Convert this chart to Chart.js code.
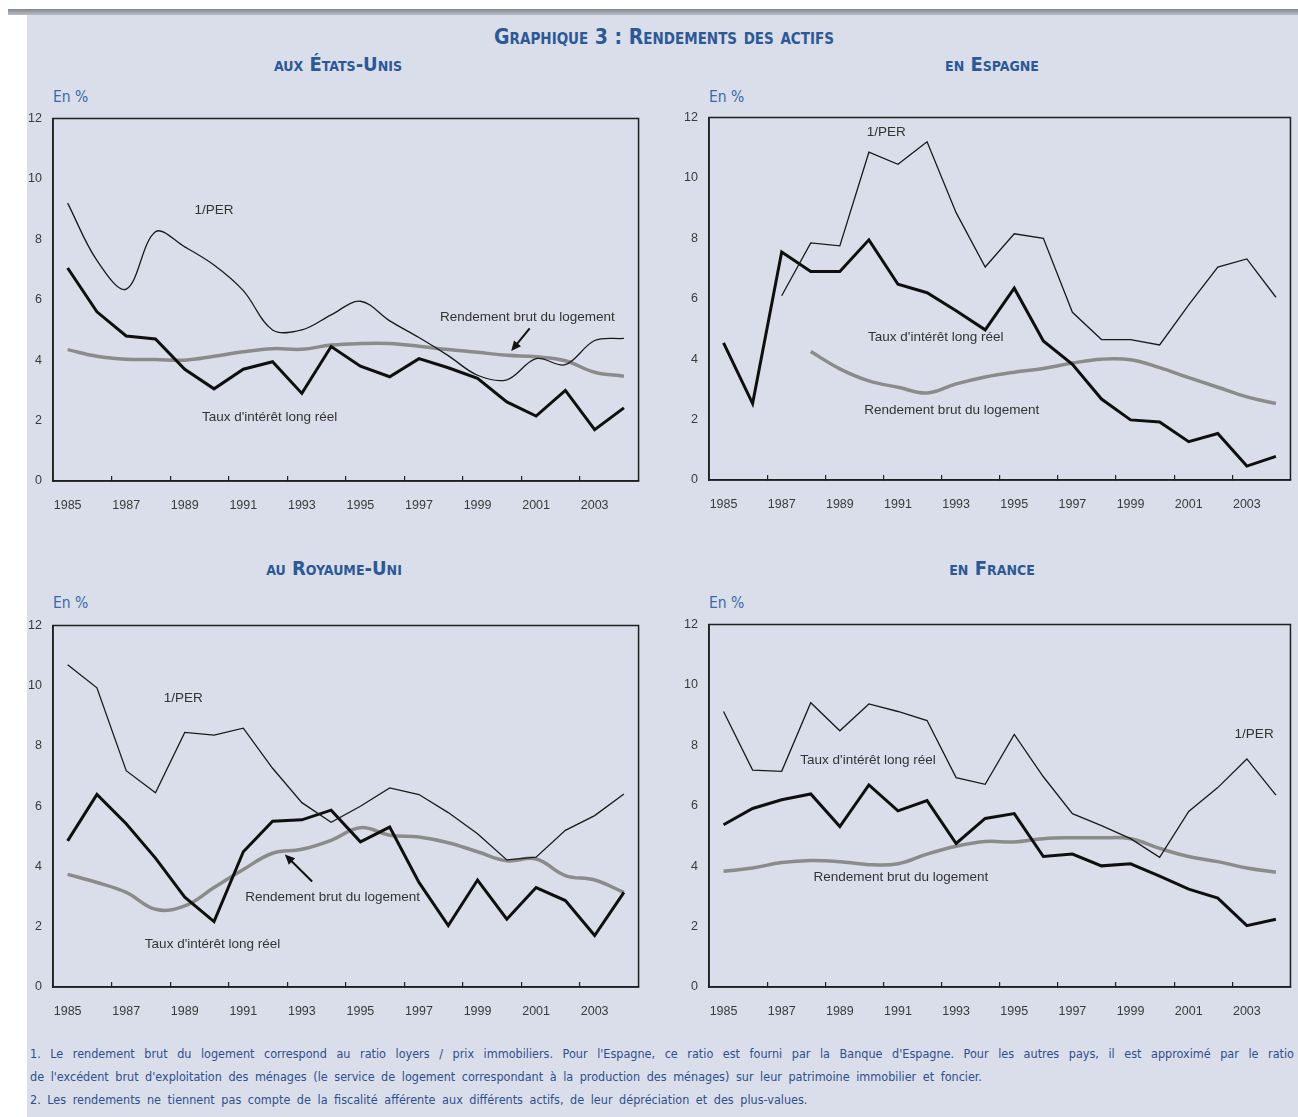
<!DOCTYPE html>
<html>
<head>
<meta charset="utf-8">
<script src="https://cdn.jsdelivr.net/npm/chart.js@4.4.1/dist/chart.umd.min.js"></script>
<style>
  body{margin:0;width:1298px;height:1117px;background:#fff;position:relative;overflow:hidden;font-family:"Liberation Sans Narrow","DejaVu Sans Condensed",sans-serif;}
  #bg{position:absolute;left:27px;top:9px;right:0;bottom:0;background:#d9deea;}
  #bar{position:absolute;left:8px;top:9px;right:0;height:6px;background:linear-gradient(#83878f,#b9bdc6);}
  .ttl{position:absolute;color:#2c5996;font-weight:bold;font-variant:small-caps;white-space:nowrap;transform:translate(-50%,-50%);}
  .unit{position:absolute;color:#3a6aa8;font-size:15.5px;transform:translateY(-50%);}
  .panel{position:absolute;}
  .note{position:absolute;left:30px;width:1264px;color:#2f4f8c;font-size:12.5px;word-spacing:3px;white-space:nowrap;}
  .just{text-align:justify;text-align-last:justify;white-space:normal;}
</style>
</head>
<body>
<div id="bg"></div>
<div id="bar"></div>

<div class="ttl" style="left:664px;top:37px;font-size:21px;">Graphique 3 : Rendements des actifs</div>
<div class="ttl" style="left:338px;top:64px;font-size:20px;">aux États-Unis</div>
<div class="ttl" style="left:992px;top:64px;font-size:20px;">en Espagne</div>
<div class="ttl" style="left:334px;top:568px;font-size:20px;">au Royaume-Uni</div>
<div class="ttl" style="left:992px;top:568px;font-size:20px;">en France</div>

<div class="unit" style="left:53px;top:97px;">En %</div>
<div class="unit" style="left:709px;top:97px;">En %</div>
<div class="unit" style="left:53px;top:603px;">En %</div>
<div class="unit" style="left:709px;top:603px;">En %</div>

<div class="panel" id="p-us"><canvas id="c-us"></canvas></div>
<div class="panel" id="p-es"><canvas id="c-es"></canvas></div>
<div class="panel" id="p-uk"><canvas id="c-uk"></canvas></div>
<div class="panel" id="p-fr"><canvas id="c-fr"></canvas></div>

<div class="note just" style="top:1046px;">1. Le rendement brut du logement correspond au ratio loyers / prix immobiliers. Pour l'Espagne, ce ratio est fourni par la Banque d'Espagne. Pour les autres pays, il est approximé par le ratio</div>
<div class="note" style="top:1069px;">de l'excédent brut d'exploitation des ménages (le service de logement correspondant à la production des ménages) sur leur patrimoine immobilier et foncier.</div>
<div class="note" style="top:1092px;">2. Les rendements ne tiennent pas compte de la fiscalité afférente aux différents actifs, de leur dépréciation et des plus-values.</div>

<script>
// =======================
// Data (en %)
// =======================
const years = [1985,1986,1987,1988,1989,1990,1991,1992,1993,1994,1995,1996,1997,1998,1999,2000,2001,2002,2003,2004];
const yTicks = [0,2,4,6,8,10,12];

// ===== États-Unis =====
const usPer   = [9.2,7.3,6.35,8.25,7.75,7.15,6.3,5.0,5.0,5.5,5.95,5.3,4.75,4.15,3.5,3.35,4.05,3.85,4.65,4.72];
const usTaux  = [7.05,5.6,4.8,4.7,3.7,3.05,3.7,3.95,2.9,4.45,3.8,3.45,4.05,3.75,3.4,2.62,2.15,3.0,1.7,2.42];
const usLoge  = [4.35,4.13,4.03,4.02,4.0,4.13,4.28,4.38,4.36,4.5,4.55,4.55,4.46,4.35,4.26,4.16,4.11,3.98,3.6,3.47];

// ===== Espagne =====
const esPer   = [null,null,6.1,7.85,7.75,10.85,10.45,11.2,8.85,7.05,8.15,8.0,5.55,4.65,4.65,4.47,5.8,7.05,7.32,6.05];
const esTaux  = [4.54,2.53,7.55,6.9,6.9,7.95,6.48,6.2,5.6,4.97,6.35,4.6,3.83,2.68,1.99,1.92,1.27,1.54,0.46,0.78];
const esLoge  = [null,null,null,4.25,3.68,3.28,3.07,2.88,3.18,3.41,3.57,3.69,3.87,4.0,3.98,3.72,3.39,3.07,2.75,2.53];

// ===== Royaume-Uni =====
const ukPer   = [10.7,9.93,7.18,6.45,8.45,8.36,8.59,7.26,6.12,5.47,6.0,6.61,6.39,5.79,5.09,4.22,4.31,5.2,5.69,6.41];
const ukTaux  = [4.85,6.39,5.42,4.28,2.98,2.17,4.49,5.5,5.55,5.87,4.82,5.31,3.47,2.04,3.55,2.25,3.3,2.87,1.71,3.14];
const ukLoge  = [3.74,3.47,3.14,2.58,2.69,3.3,3.9,4.44,4.57,4.87,5.29,5.04,4.98,4.79,4.49,4.19,4.25,3.7,3.55,3.14];

// ===== France =====
const frPer   = [9.12,7.18,7.14,9.41,8.48,9.37,9.12,8.82,6.93,6.71,8.36,6.96,5.74,5.34,4.91,4.29,5.81,6.6,7.55,6.35];
const frTaux  = [5.37,5.91,6.2,6.39,5.31,6.69,5.83,6.17,4.75,5.58,5.74,4.32,4.4,4.01,4.08,3.67,3.24,2.94,2.03,2.24];
const frLoge  = [3.83,3.94,4.12,4.19,4.15,4.05,4.08,4.4,4.66,4.82,4.8,4.91,4.94,4.94,4.91,4.59,4.32,4.15,3.94,3.8];

// series labels written inside each panel (x = year index, y = value)
const usNotes = [{text:"1/PER",x:5.0,y:8.95},{text:"Rendement brut du logement",x:15.7,y:5.42},{text:"Taux d'intérêt long réel",x:6.9,y:2.12}];
const esNotes = [{text:"1/PER",x:5.6,y:11.5},{text:"Taux d'intérêt long réel",x:7.3,y:4.72},{text:"Rendement brut du logement",x:7.85,y:2.3}];
const ukNotes = [{text:"1/PER",x:3.95,y:9.6},{text:"Rendement brut du logement",x:9.05,y:2.98},{text:"Taux d'intérêt long réel",x:4.95,y:1.42}];
const frNotes = [{text:"1/PER",x:18.25,y:8.38},{text:"Taux d'intérêt long réel",x:4.97,y:7.5},{text:"Rendement brut du logement",x:6.1,y:3.62}];
const usArrows = [{x1:15.78,y1:5.05,x2:15.15,y2:4.3}];
const ukArrows = [{x1:8.35,y1:3.5,x2:7.42,y2:4.4}];

// =======================
// Helpers
// =======================
const FONT = '"Liberation Sans", Arial, sans-serif';

const framePlugin = {
  id:'frame',
  afterDraw(c){
    const {ctx, chartArea:a} = c;
    ctx.save();
    ctx.strokeStyle = '#1f1f1f'; ctx.lineWidth = 1.5;
    ctx.strokeRect(a.left, a.top, a.right - a.left, a.bottom - a.top);
    ctx.restore();
  }
};

const notesPlugin = {
  id:'notes',
  afterDatasetsDraw(c, args, opts){
    const xs = c.scales.x, ys = c.scales.y, ctx = c.ctx;
    ctx.save();
    ctx.font = '13.5px ' + FONT;
    ctx.fillStyle = '#333'; ctx.textAlign = 'center'; ctx.textBaseline = 'middle';
    (opts.labels || []).forEach(n => ctx.fillText(n.text, xs.getPixelForValue(n.x), ys.getPixelForValue(n.y)));
    (opts.arrows || []).forEach(a => {
      const x1 = xs.getPixelForValue(a.x1), y1 = ys.getPixelForValue(a.y1);
      const x2 = xs.getPixelForValue(a.x2), y2 = ys.getPixelForValue(a.y2);
      const ang = Math.atan2(y2 - y1, x2 - x1);
      ctx.strokeStyle = '#111'; ctx.fillStyle = '#111'; ctx.lineWidth = 2;
      ctx.beginPath(); ctx.moveTo(x1, y1);
      ctx.lineTo(x2 - 6 * Math.cos(ang), y2 - 6 * Math.sin(ang)); ctx.stroke();
      ctx.beginPath(); ctx.moveTo(x2, y2);
      ctx.lineTo(x2 - 10 * Math.cos(ang) + 4.5 * Math.sin(ang), y2 - 10 * Math.sin(ang) - 4.5 * Math.cos(ang));
      ctx.lineTo(x2 - 10 * Math.cos(ang) - 4.5 * Math.sin(ang), y2 - 10 * Math.sin(ang) + 4.5 * Math.cos(ang));
      ctx.closePath(); ctx.fill();
    });
    ctx.restore();
  }
};

function makePanel(id, box, per, taux, loge, notes, arrows, perTension){
  // box = plot area in page pixels
  const yw = 40, xh = 34, pt = 10, pr = 3;
  const div = document.getElementById('p-' + id);
  div.style.left = (box.left - yw) + 'px';
  div.style.top = (box.top - pt) + 'px';
  div.style.width = (box.right - box.left + yw + pr) + 'px';
  div.style.height = (box.bottom - box.top + pt + xh) + 'px';
  new Chart(document.getElementById('c-' + id), {
    type:'line',
    data:{
      labels: years,
      datasets:[
        { label:'1/PER', data:per, borderColor:'#1a1a1a', borderWidth:1.3, tension:perTension, pointRadius:0 },
        { label:"Taux d'intérêt long réel", data:taux, borderColor:'#0f0f0f', borderWidth:3, tension:0, pointRadius:0 },
        { label:'Rendement brut du logement', data:loge, borderColor:'#8b8b8b', borderWidth:3.5, tension:0.4, pointRadius:0 }
      ]
    },
    options:{
      responsive:true, maintainAspectRatio:false, animation:false,
      layout:{ padding:{ top:pt, right:pr, left:0, bottom:0 } },
      plugins:{ legend:{display:false}, tooltip:{enabled:false}, notes:{ labels:notes, arrows:arrows } },
      scales:{
        x:{
          type:'category', offset:true,
          grid:{ offset:true, drawOnChartArea:false, drawTicks:true, tickLength:-5, lineWidth:1.2,
                 color: ctx => (years[ctx.index] % 2 === 1 ? '#222' : 'rgba(0,0,0,0)') },
          border:{ color:'#1f1f1f', width:1.5 },
          ticks:{ autoSkip:false, maxRotation:0, padding:22, color:'#3a3a3a', font:{ family:FONT, size:12.5 },
                  callback:(v, i) => (years[i] % 2 === 1 ? String(years[i]) : '') },
          afterFit: s => { s.height = xh; }
        },
        y:{
          min:0, max:12,
          afterBuildTicks: s => { s.ticks = yTicks.map(v => ({ value:v })); },
          grid:{ display:false, drawTicks:false },
          border:{ color:'#1f1f1f', width:1.5 },
          ticks:{ padding:11, color:'#3a3a3a', font:{ family:FONT, size:12.5 } },
          afterFit: s => { s.width = yw; }
        }
      }
    },
    plugins:[framePlugin, notesPlugin]
  });
}

// =======================
// Draw the four panels
// =======================
makePanel('us', {left:53, right:643, top:110, bottom:481}, usPer, usTaux, usLoge, usNotes, usArrows, 0.35);
makePanel('es', {left:709, right:1295, top:109, bottom:480}, esPer, esTaux, esLoge, esNotes, [], 0);
makePanel('uk', {left:53, right:643, top:617, bottom:987}, ukPer, ukTaux, ukLoge, ukNotes, ukArrows, 0);
makePanel('fr', {left:709, right:1295, top:616, bottom:987}, frPer, frTaux, frLoge, frNotes, [], 0);
</script>
</body>
</html>
